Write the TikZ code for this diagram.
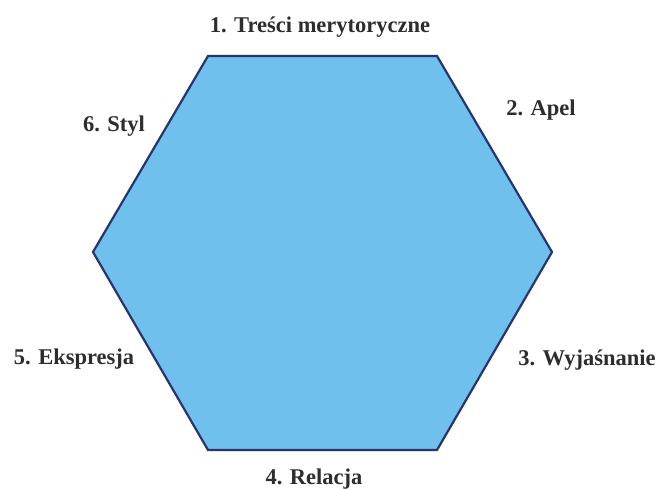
\documentclass[tikz,border=0pt]{standalone}
\usepackage{fontspec}
\setmainfont{Liberation Serif}
\definecolor{hexfill}{RGB}{112,192,238}
\definecolor{hexline}{RGB}{40,52,110}
\definecolor{txt}{RGB}{45,45,45}
\begin{document}
\begin{tikzpicture}[x=1pt,y=-1pt,
  lbl/.style={font=\bfseries\fontsize{22.5}{26}\selectfont, text=txt, inner sep=0pt, anchor=base}]
\useasboundingbox[fill=white] (0,0) rectangle (658,488);
\coordinate (v1) at (208,56);
\coordinate (v2) at (437,56);
\coordinate (v3) at (552,252);
\coordinate (v4) at (437,450);
\coordinate (v5) at (208,450);
\coordinate (v6) at (93,252);
\draw[fill=hexfill, draw=hexline, line width=2.2pt, line join=miter]
  (v1) -- (v2) -- (v3) -- (v4) -- (v5) -- (v6) -- cycle;
\node[lbl] (t1) at (320,32) {1. Treści merytoryczne};
\node[lbl] (t2) at (541,115) {2. Apel};
\node[lbl] (t3) at (587,365) {3. Wyjaśnanie};
\node[lbl] (t4) at (314,484) {4. Relacja};
\node[lbl] (t5) at (74,364) {5. Ekspresja};
\node[lbl] (t6) at (114,131) {6. Styl};
\end{tikzpicture}
\end{document}
